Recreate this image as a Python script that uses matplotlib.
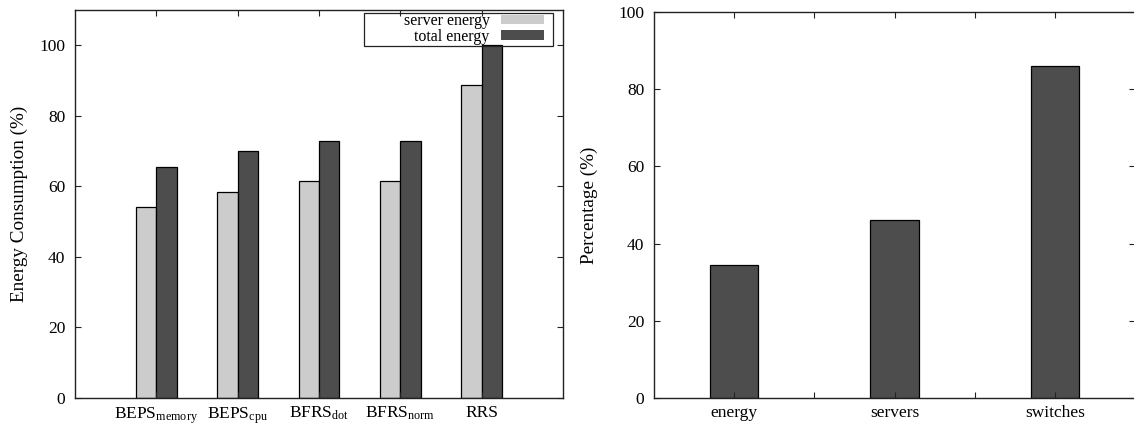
import numpy as np
import matplotlib
matplotlib.use("Agg")
import matplotlib.pyplot as plt
from matplotlib.patches import Patch, Rectangle

plt.rcParams['font.family'] = ['Liberation Serif', 'DejaVu Serif']
plt.rcParams['mathtext.fontset'] = 'custom'
plt.rcParams['mathtext.rm'] = 'Liberation Serif'
plt.rcParams['mathtext.it'] = 'Liberation Serif:italic'

# left chart data
schemes = [r'BEPS$_{\mathrm{memory}}$', r'BEPS$_{\mathrm{cpu}}$', r'BFRS$_{\mathrm{dot}}$',
           r'BFRS$_{\mathrm{norm}}$', 'RRS']
server_energy = [54.2, 58.5, 61.5, 61.4, 88.7]
total_energy = [65.6, 70.0, 72.9, 72.8, 100.0]

# right chart data
parts = ['energy', 'servers', 'switches']
percentage = [34.5, 46.0, 86.0]

light = '#cccccc'
dark = '#4d4d4d'
spine_col = '#222222'

fig = plt.figure(figsize=(11.34, 4.28), dpi=100)
ax1 = fig.add_axes([75 / 1134, 30 / 428, 488 / 1134, 388 / 428])
ax2 = fig.add_axes([654 / 1134, 30 / 428, 481 / 1134, 386 / 428])

x = np.arange(len(schemes))
w = 0.25
ax1.bar(x - w / 2, server_energy, w, color=light, edgecolor='black', linewidth=0.9)
ax1.bar(x + w / 2, total_energy, w, color=dark, edgecolor='black', linewidth=0.9)
ax1.set_xlim(-1, 5)
ax1.set_ylim(0, 110)
ax1.set_xticks(x)
ax1.set_xticklabels(schemes)
ax1.set_yticks([0, 20, 40, 60, 80, 100])
ax1.set_ylabel('Energy Consumption (%)', fontsize=13.8)

# gnuplot style key: text right aligned, swatch on the right, wide box
handles = [Patch(facecolor=light, edgecolor='none'), Patch(facecolor=dark, edgecolor='none')]
ax1.legend(handles, ['server energy', 'total energy'], loc='upper right',
           bbox_to_anchor=((544 - 75) / 488, (398 - 13) / 388), markerfirst=False,
           frameon=False, fontsize=11.5, handlelength=2.7, handleheight=0.53,
           borderaxespad=0, borderpad=0, labelspacing=-0.02, handletextpad=0.7)
ax1.add_patch(Rectangle(((364 - 75) / 488, (398 - 46) / 388), (553 - 364) / 488, 33 / 388,
                        transform=ax1.transAxes, fill=False, edgecolor=spine_col,
                        linewidth=0.9, zorder=5))

x2 = np.arange(len(parts))
ax2.bar(x2, percentage, 0.3, color=dark, edgecolor='black', linewidth=0.9)
ax2.set_xlim(-0.5, 2.5)
ax2.set_ylim(0, 100)
ax2.set_xticks(x2)
ax2.set_xticklabels(parts)
ax2.set_xticks([0.5, 1.5], minor=True)
ax2.set_yticks([0, 20, 40, 60, 80, 100])
ax2.set_ylabel('Percentage (%)', fontsize=13.8)

for ax in (ax1, ax2):
    for s in ax.spines.values():
        s.set_color(spine_col)
        s.set_linewidth(1.0)
    ax.tick_params(which='both', direction='in', top=True, right=True, length=4,
                   width=0.8, color=spine_col, labelsize=12.5)
    ax.tick_params(axis='y', pad=7)
    ax.tick_params(axis='x', pad=5)

ax1.yaxis.set_label_coords(-0.096, 0.5)
ax2.yaxis.set_label_coords(-0.117, 0.5)

fig.savefig('out.png', dpi=100)
